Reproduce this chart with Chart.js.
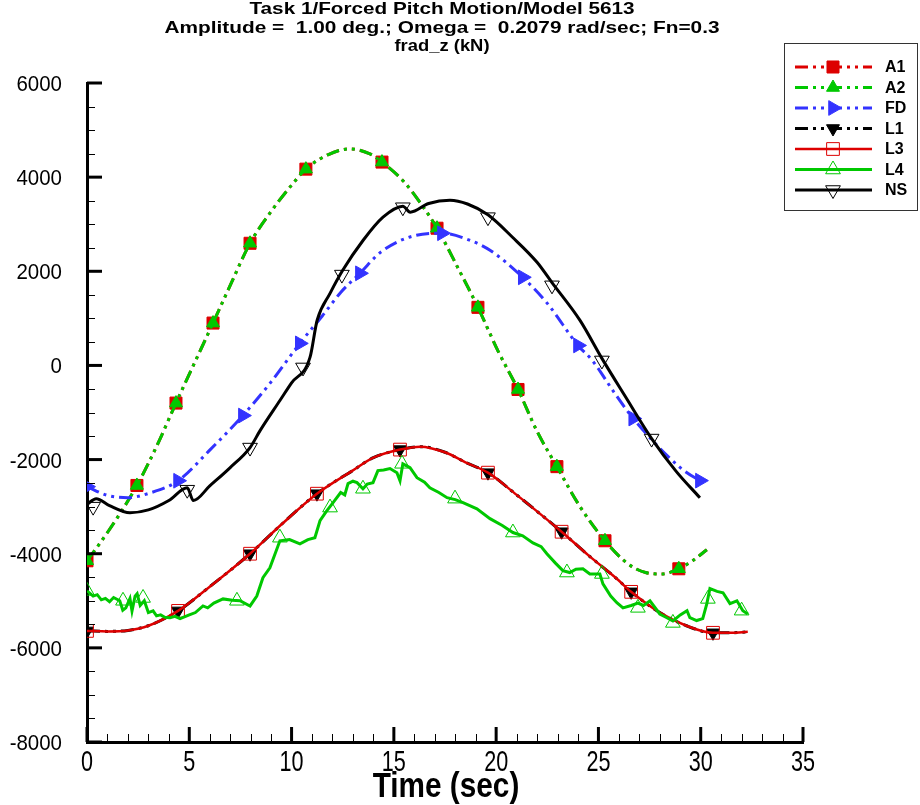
<!DOCTYPE html>
<html>
<head>
<meta charset="utf-8">
<title>frad_z (kN)</title>
<script src="https://cdn.jsdelivr.net/npm/chart.js@4.4.1/dist/chart.umd.min.js"></script>
<style>
  html, body { margin: 0; padding: 0; background: #fff; }
  #wrap { width: 920px; height: 805px; }
</style>
</head>
<body>
<div id="wrap"><canvas id="chart" width="920" height="805"></canvas></div>
<script>
// Titles and tick labels
const titleLines = [
    'Task 1/Forced Pitch Motion/Model 5613',
    'Amplitude =  1.00 deg.; Omega =  0.2079 rad/sec; Fn=0.3',
    'frad_z (kN)'
];
const xAxisTitle = 'Time (sec)';
const xTicks = [0, 5, 10, 15, 20, 25, 30, 35];
const yTicks = [-8000, -6000, -4000, -2000, 0, 2000, 4000, 6000];

// A1 / A2 (the two curves lie on top of each other)
const aTime = [0, 1, 2.44, 3.4, 4.35, 5.2, 6.16, 7, 7.97, 9, 10, 10.7, 11.8, 12.85, 13.8, 14.42, 15.5, 16.3, 17.11, 18.1, 19.11, 20.1, 21.07, 22, 22.97, 24.1, 25.32, 26.4, 27.3, 28.1, 28.93, 29.6, 30.3];
const aValue = [-4150, -3550, -2550, -1720, -800, 0, 900, 1700, 2595, 3270, 3830, 4170, 4480, 4600, 4500, 4320, 3900, 3450, 2915, 2100, 1234, 300, -511, -1400, -2150, -3000, -3725, -4200, -4400, -4430, -4320, -4150, -3915];
const aMarkTime = [0, 2.44, 4.35, 6.16, 7.97, 10.7, 14.42, 17.11, 19.11, 21.07, 22.97, 25.32, 28.93];
const aMarkValue = [-4150, -2550, -800, 900, 2595, 4170, 4320, 2915, 1234, -511, -2150, -3725, -4320];

// FD
const fdTime = [0, 1, 2, 3, 4.45, 6, 7.62, 9, 10.4, 11.5, 12.4, 13.34, 14.4, 16.1, 17.35, 18.7, 19.7, 21.3, 22.5, 24, 24.7, 25.7, 26.7, 29, 29.96, 30.2];
const fdValue = [-2575, -2760, -2810, -2720, -2450, -1800, -1065, -350, 468, 1050, 1550, 1957, 2420, 2766, 2808, 2660, 2447, 1872, 1319, 425, 106, -530, -1128, -2170, -2447, -2500];
const fdMarkTime = [0, 4.45, 7.62, 10.4, 13.34, 17.35, 21.3, 24, 26.7, 29.96];
const fdMarkValue = [-2575, -2450, -1065, 468, 1957, 2808, 1872, 425, -1128, -2447];

// L1 / L3 (the two curves lie on top of each other)
const lTime = [0, 1, 2, 3, 4.45, 6, 7.97, 9.5, 11.24, 13, 14, 15.3, 16.3, 17.5, 18.5, 19.6, 21, 22, 23.2, 24.5, 25.9, 26.6, 28, 29.3, 30.6, 31.5, 32.3];
const lValue = [-5640, -5650, -5630, -5530, -5215, -4700, -4000, -3380, -2725, -2230, -1960, -1788, -1725, -1845, -2058, -2278, -2750, -3100, -3533, -4030, -4533, -4810, -5250, -5530, -5680, -5680, -5660];
const lMarkTime = [0, 4.45, 7.97, 11.24, 15.3, 19.6, 23.2, 26.6, 30.6];
const lMarkValue = [-5640, -5215, -4000, -2725, -1788, -2278, -3533, -4810, -5680];

// L4 (noisy)
const l4Time = [0, 0.3, 0.5, 0.7, 0.9, 1.1, 1.3, 1.6, 1.75, 1.9, 2.1, 2.2, 2.35, 2.45, 2.6, 2.8, 3.0, 3.23, 3.4, 3.6, 3.8, 4.06, 4.3, 4.55, 5.0, 5.3, 5.67, 5.9, 6.2, 6.65, 7.1, 7.48, 7.97, 8.3, 8.6, 8.94, 9.43, 9.9, 10.41, 10.8, 11.14, 11.39, 11.7, 12.02, 12.4, 12.6, 12.76, 13.0, 13.2, 13.49, 13.7, 13.98, 14.22, 14.5, 14.81, 15.15, 15.3, 15.44, 15.79, 16.13, 16.5, 16.76, 17.2, 17.6, 18.0, 18.38, 19.06, 19.7, 20.3, 20.82, 21.3, 21.8, 22.2, 22.48, 22.9, 23.26, 23.6, 23.9, 24.24, 24.58, 25.07, 25.22, 25.6, 25.9, 26.2, 26.6, 26.93, 27.2, 27.52, 28.0, 28.3, 28.64, 29.0, 29.33, 29.47, 29.8, 30.1, 30.3, 30.45, 30.8, 31.09, 31.43, 31.77, 32.06, 32.3];
const l4Value = [-4790, -4900, -4870, -4980, -4950, -5020, -4930, -5000, -5200, -5150, -4950, -5215, -4900, -4850, -5100, -5000, -5250, -5215, -5320, -5300, -5350, -5360, -5330, -5380, -5300, -5250, -5110, -5150, -5050, -4960, -4990, -5000, -5110, -4900, -4510, -4300, -3725, -3700, -3790, -3700, -3660, -3300, -3100, -2920, -2700, -2750, -2510, -2460, -2490, -2620, -2520, -2490, -2235, -2220, -2190, -2280, -2450, -2090, -2170, -2385, -2480, -2600, -2700, -2810, -2850, -2915, -3045, -3255, -3400, -3550, -3620, -3770, -3850, -4000, -4200, -4360, -4400, -4330, -4320, -4430, -4430, -4640, -4900, -5040, -5150, -5100, -5050, -5100, -5000, -5280, -5350, -5430, -5300, -5210, -5360, -5420, -5380, -5060, -4740, -4800, -4830, -5060, -5000, -5210, -5280];
const l4MarkTime = [0, 1.76, 2.74, 7.33, 9.43, 11.88, 13.49, 15.4, 17.99, 20.82, 23.46, 25.17, 26.93, 28.64, 30.35, 32.0];
const l4MarkValue = [-4790, -5000, -4940, -5000, -3660, -3020, -2620, -2090, -2830, -3550, -4400, -4430, -5150, -5470, -4960, -5210];

// NS
const nsTime = [0, 0.45, 1.1, 2.1, 3, 4, 4.9, 5.2, 6, 7, 7.97, 8.46, 9.43, 10, 10.9, 11.25, 11.88, 12.5, 13.5, 14.47, 15.44, 15.8, 16.7, 17.74, 18.6, 19.6, 20.8, 22, 22.73, 24.1, 25.17, 26.3, 27.6, 28.8, 29.96];
const nsValue = [-2950, -2830, -2980, -3130, -3070, -2870, -2600, -2870, -2560, -2170, -1745, -1385, -745, -370, 170, 960, 1530, 2020, 2660, 3150, 3383, 3255, 3440, 3510, 3430, 3200, 2723, 2191, 1760, 957, 150, -650, -1554, -2250, -2810];
const nsMarkTime = [0.3, 4.9, 7.97, 10.56, 12.46, 15.44, 19.6, 22.73, 25.17, 27.6];
const nsMarkValue = [-3000, -2640, -1745, -43, 1930, 3361, 3150, 1702, 106, -1554];

const RED = '#dd0000';
const GREEN = '#00c800';
const BLUE = '#3333ff';
const BLACK = '#000000';
const DASH = [13, 5, 3, 5, 3, 5];

// series styles, in legend order
const series = [
    { name: 'A1', t: aTime, v: aValue, mt: aMarkTime, mv: aMarkValue, color: RED, width: 3, dash: DASH, smooth: true,
      marker: 'rect', rot: 0, size: 8.5, hollow: false },
    { name: 'A2', t: aTime, v: aValue, mt: aMarkTime, mv: aMarkValue, color: GREEN, width: 3, dash: DASH, smooth: true,
      marker: 'triangle', rot: 0, size: 7.5, hollow: false },
    { name: 'FD', t: fdTime, v: fdValue, mt: fdMarkTime, mv: fdMarkValue, color: BLUE, width: 3, dash: DASH, smooth: true,
      marker: 'triangle', rot: 90, size: 8.5, hollow: false },
    { name: 'L1', t: lTime, v: lValue, mt: lMarkTime, mv: lMarkValue, color: BLACK, width: 3, dash: DASH, smooth: true,
      marker: 'triangle', rot: 180, size: 7.5, hollow: false },
    { name: 'L3', t: lTime, v: lValue, mt: lMarkTime, mv: lMarkValue, color: RED, width: 2.5, dash: [], smooth: true,
      marker: 'rect', rot: 0, size: 9, hollow: true },
    { name: 'L4', t: l4Time, v: l4Value, mt: l4MarkTime, mv: l4MarkValue, color: GREEN, width: 3, dash: [], smooth: false,
      marker: 'triangle', rot: 0, size: 8.5, hollow: true },
    { name: 'NS', t: nsTime, v: nsValue, mt: nsMarkTime, mv: nsMarkValue, color: BLACK, width: 3, dash: [], smooth: true,
      marker: 'triangle', rot: 180, size: 8.5, hollow: true }
];

function toPoints(xs, ys) {
    return xs.map((x, i) => ({ x: x, y: ys[i] }));
}

// later series are drawn on top (higher order is drawn first)
const datasets = [];
series.forEach((s, i) => {
    const order = (series.length - i) * 2;
    datasets.push({
        label: s.name,
        data: toPoints(s.t, s.v),
        borderColor: s.color,
        borderWidth: s.width,
        borderDash: s.dash,
        pointRadius: 0,
        fill: false,
        cubicInterpolationMode: s.smooth ? 'monotone' : 'default',
        tension: 0,
        order: order
    });
    datasets.push({
        label: s.name + ' markers',
        data: toPoints(s.mt, s.mv),
        showLine: false,
        pointStyle: s.marker,
        rotation: s.rot,
        pointRadius: s.size,
        pointBackgroundColor: s.hollow ? 'rgba(0,0,0,0)' : s.color,
        pointBorderColor: s.color,
        pointBorderWidth: 1,
        order: order - 1
    });
});

// draw text squeezed horizontally, like the original plot fonts
function squeezed(ctx, text, x, y, sx, align) {
    ctx.save();
    ctx.translate(x, y);
    ctx.scale(sx, 1);
    ctx.textAlign = align;
    ctx.fillText(text, 0, 0);
    ctx.restore();
}

function marker(ctx, s, x, y) {
    ctx.save();
    ctx.setLineDash([]);
    ctx.fillStyle = s.hollow ? 'rgba(0,0,0,0)' : s.color;
    ctx.strokeStyle = s.color;
    ctx.lineWidth = 1;
    Chart.helpers.drawPoint(ctx, { pointStyle: s.marker, rotation: s.rot, radius: s.size, borderWidth: 1 }, x, y);
    ctx.restore();
}

const decorations = {
    id: 'decorations',
    afterDraw(chart) {
        const ctx = chart.ctx;
        const xs = chart.scales.x;
        const ys = chart.scales.y;
        const area = chart.chartArea;

        ctx.save();
        ctx.strokeStyle = '#000';
        ctx.setLineDash([]);

        // inward ticks, minor first
        ctx.lineWidth = 1;
        for (let t = 0; t <= 35; t += 1) {
            if (t % 5 === 0) continue;
            const px = Math.round(xs.getPixelForValue(t)) + 0.5;
            ctx.beginPath(); ctx.moveTo(px, area.bottom); ctx.lineTo(px, area.bottom - 8); ctx.stroke();
        }
        for (let v = -8000; v <= 6000; v += 500) {
            if (v % 2000 === 0) continue;
            const py = Math.round(ys.getPixelForValue(v)) + 0.5;
            ctx.beginPath(); ctx.moveTo(area.left, py); ctx.lineTo(area.left + 8, py); ctx.stroke();
        }
        ctx.lineWidth = 3;
        xTicks.forEach(t => {
            const px = xs.getPixelForValue(t);
            ctx.beginPath(); ctx.moveTo(px, area.bottom); ctx.lineTo(px, area.bottom - 15); ctx.stroke();
        });
        yTicks.forEach(v => {
            const py = ys.getPixelForValue(v);
            ctx.beginPath(); ctx.moveTo(area.left, py); ctx.lineTo(area.left + 15, py); ctx.stroke();
        });

        // tick labels
        ctx.fillStyle = '#000';
        ctx.textBaseline = 'alphabetic';
        ctx.font = '22px "Liberation Sans", Arial, sans-serif';
        yTicks.forEach(v => {
            squeezed(ctx, String(v), area.left - 25, ys.getPixelForValue(v) + 8, 0.93, 'right');
        });
        ctx.font = '30px "Liberation Sans", Arial, sans-serif';
        xTicks.forEach(t => {
            squeezed(ctx, String(t), xs.getPixelForValue(t), 771, 0.72, 'center');
        });
        ctx.font = 'bold 35px "Liberation Sans", Arial, sans-serif';
        squeezed(ctx, xAxisTitle, 446, 797, 0.85, 'center');

        // title
        const titleBase = [14, 33, 51];
        const titleWidth = [385, 555, 95];
        ctx.font = 'bold 17px "Liberation Sans", Arial, sans-serif';
        titleLines.forEach((line, i) => {
            const w = ctx.measureText(line).width;
            squeezed(ctx, line, 442, titleBase[i], titleWidth[i] / w, 'center');
        });

        // legend box
        ctx.lineWidth = 1;
        ctx.strokeStyle = '#333';
        ctx.strokeRect(784.5, 43.5, 133, 167);
        ctx.font = 'bold 16px "Liberation Sans", Arial, sans-serif';
        ctx.textBaseline = 'middle';
        series.forEach((s, i) => {
            const y = 67 + i * 20.5;
            ctx.strokeStyle = s.color;
            ctx.lineWidth = s.width;
            ctx.setLineDash(s.dash);
            ctx.beginPath(); ctx.moveTo(795, y); ctx.lineTo(872, y); ctx.stroke();
            marker(ctx, s, 833, y);
            ctx.fillStyle = '#000';
            ctx.textAlign = 'left';
            ctx.fillText(s.name, 885, y + 1);
        });
        ctx.restore();
    }
};

new Chart(document.getElementById('chart'), {
    type: 'line',
    data: { datasets: datasets },
    options: {
        responsive: false,
        animation: false,
        events: [],
        layout: { padding: { top: 83, right: 117, left: 0, bottom: 0 } },
        plugins: {
            legend: { display: false },
            tooltip: { enabled: false },
            title: { display: false }
        },
        scales: {
            x: {
                type: 'linear',
                min: 0,
                max: 35,
                ticks: { display: false, stepSize: 5 },
                grid: { display: false },
                border: { display: true, color: '#000', width: 3 },
                afterFit: scale => { scale.height = 63; }
            },
            y: {
                type: 'linear',
                min: -8000,
                max: 6000,
                ticks: { display: false, stepSize: 2000 },
                grid: { display: false },
                border: { display: true, color: '#000', width: 3 },
                afterFit: scale => { scale.width = 87; }
            }
        }
    },
    plugins: [decorations]
});
</script>
</body>
</html>
